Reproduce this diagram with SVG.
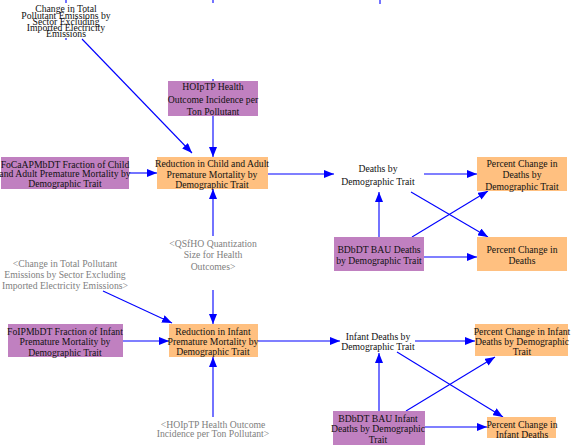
<svg xmlns="http://www.w3.org/2000/svg" width="571" height="448" viewBox="0 0 571 448" font-family="'Liberation Serif', 'DejaVu Serif', serif">
<defs>
<marker id="ah" markerUnits="userSpaceOnUse" markerWidth="10" markerHeight="8" viewBox="0 0 10 8" refX="10" refY="4" orient="auto">
<path d="M0,0 L10,4 L0,8 Z" fill="#0000ff"/>
</marker>
</defs>
<style>
text{font-family:'Liberation Serif','DejaVu Serif',serif;font-size:9.7px;text-anchor:middle;fill:#111111}
.g{fill:#808080}
.p{fill:#c080c0}
.o{fill:#ffc080}
.c{stroke:#0000ff;stroke-width:1.1;fill:none}
.a{marker-end:url(#ah)}
</style>
<rect width="571" height="448" fill="#ffffff"/>

<g id="connectors">
<line class="c a" x1="82" y1="39" x2="192" y2="153"/>
<line class="c a" x1="213" y1="116" x2="213" y2="157"/>
<line class="c a" x1="129" y1="173" x2="157" y2="173"/>
<line class="c a" x1="213" y1="236" x2="213" y2="189"/>
<line class="c a" x1="268" y1="174" x2="334" y2="174"/>
<line class="c a" x1="424" y1="174" x2="477" y2="174"/>
<line class="c a" x1="411" y1="192" x2="488" y2="237"/>
<line class="c a" x1="379" y1="237" x2="379" y2="192"/>
<line class="c a" x1="412" y1="237" x2="488" y2="191"/>
<line class="c a" x1="424" y1="257" x2="477" y2="257"/>
<line class="c a" x1="103" y1="291" x2="172" y2="323"/>
<line class="c a" x1="213" y1="290" x2="213" y2="324"/>
<line class="c a" x1="123" y1="341" x2="169" y2="341"/>
<line class="c a" x1="213" y1="417" x2="213" y2="357"/>
<line class="c a" x1="258" y1="341" x2="340" y2="341"/>
<line class="c a" x1="415" y1="341" x2="475" y2="341"/>
<line class="c a" x1="397" y1="352" x2="503" y2="417"/>
<line class="c a" x1="379" y1="411" x2="379" y2="353"/>
<line class="c a" x1="406" y1="411" x2="495" y2="357"/>
<line class="c a" x1="425" y1="427" x2="487" y2="427"/>
<line class="c" x1="66" y1="0" x2="66" y2="3" stroke-width="2.5"/>
<line class="c" x1="66" y1="38" x2="66" y2="40"/>
<line class="c" x1="213" y1="0" x2="213" y2="3" stroke-width="2.5"/>
<line class="c" x1="213" y1="79" x2="213" y2="81"/>
<line class="c" x1="380" y1="0" x2="380" y2="4"/>
</g>

<g id="change-total-top">
<text x="66" y="12">Change in Total</text>
<text x="66" y="19">Pollutant Emissions by</text>
<text x="66" y="25">Sector Excluding</text>
<text x="66" y="31">Imported Electricity</text>
<text x="66" y="37">Emissions</text>
</g>

<g id="hoiptp">
<rect class="p" x="168" y="81" width="90" height="35"/>
<text x="213" y="90">HOIpTP Health</text>
<text x="213" y="102.5">Outcome Incidence per</text>
<text x="213" y="115">Ton Pollutant</text>
</g>

<g id="focaapmbdt">
<rect class="p" x="1" y="157" width="128" height="32"/>
<text x="65" y="167.5">FoCaAPMbDT Fraction of Child</text>
<text x="65" y="177">and Adult Premature Mortality by</text>
<text x="65" y="187">Demographic Trait</text>
</g>

<g id="reduction-child">
<rect class="o" x="157" y="157" width="111" height="32"/>
<text x="212" y="166.5">Reduction in Child and Adult</text>
<text x="212" y="177.5">Premature Mortality by</text>
<text x="212" y="187.5">Demographic Trait</text>
</g>

<g id="deaths-by">
<text x="378" y="171.5">Deaths by</text>
<text x="378" y="184.5">Demographic Trait</text>
</g>

<g id="pc-deaths-by-demo">
<rect class="o" x="477" y="157" width="90" height="34"/>
<text x="522" y="166.5">Percent Change in</text>
<text x="522" y="177.5">Deaths by</text>
<text x="522" y="190">Demographic Trait</text>
</g>

<g id="qsfho">
<text class="g" x="213" y="246.5">&lt;QSfHO Quantization</text>
<text class="g" x="213" y="257.5">Size for Health</text>
<text class="g" x="213" y="269.5">Outcomes&gt;</text>
</g>

<g id="bdbdt">
<rect class="p" x="334" y="237" width="90" height="34"/>
<text x="379" y="252.5">BDbDT BAU Deaths</text>
<text x="379" y="263.5">by Demographic Trait</text>
</g>

<g id="pc-deaths">
<rect class="o" x="477" y="237" width="90" height="34"/>
<text x="522" y="252.5">Percent Change in</text>
<text x="522" y="263.5">Deaths</text>
</g>

<g id="change-total-gray">
<text class="g" x="65" y="266.5">&lt;Change in Total Pollutant</text>
<text class="g" x="65" y="277.5">Emissions by Sector Excluding</text>
<text class="g" x="65" y="288.5">Imported Electricity Emissions&gt;</text>
</g>

<g id="foipmbdt">
<rect class="p" x="8" y="324" width="115" height="33"/>
<text x="65" y="334.5">FoIPMbDT Fraction of Infant</text>
<text x="65" y="344.5">Premature Mortality by</text>
<text x="65" y="355.5">Demographic Trait</text>
</g>

<g id="reduction-infant">
<rect class="o" x="169" y="324" width="89" height="33"/>
<text x="213" y="334.5">Reduction in Infant</text>
<text x="213" y="344.5">Premature Mortality by</text>
<text x="213" y="354.5">Demographic Trait</text>
</g>

<g id="infant-deaths">
<text x="378" y="339.5">Infant Deaths by</text>
<text x="378" y="349.5">Demographic Trait</text>
</g>

<g id="pc-infant-deaths-by-demo">
<rect class="o" x="475" y="324" width="93" height="32"/>
<text x="522" y="334.5">Percent Change in Infant</text>
<text x="522" y="344.5">Deaths by Demographic</text>
<text x="522" y="354.5">Trait</text>
</g>

<g id="hoiptp-gray">
<text class="g" x="213" y="427.5">&lt;HOIpTP Health Outcome</text>
<text class="g" x="213" y="436.5">Incidence per Ton Pollutant&gt;</text>
</g>

<g id="bdbdt-infant">
<rect class="p" x="333" y="411" width="92" height="34"/>
<text x="378" y="421.5">BDbDT BAU Infant</text>
<text x="378" y="431.5">Deaths by Demographic</text>
<text x="378" y="442.5">Trait</text>
</g>

<g id="pc-infant-deaths">
<rect class="o" x="487" y="417" width="69" height="21"/>
<text x="522" y="427.5">Percent Change in</text>
<text x="522" y="437.5">Infant Deaths</text>
</g>
</svg>
